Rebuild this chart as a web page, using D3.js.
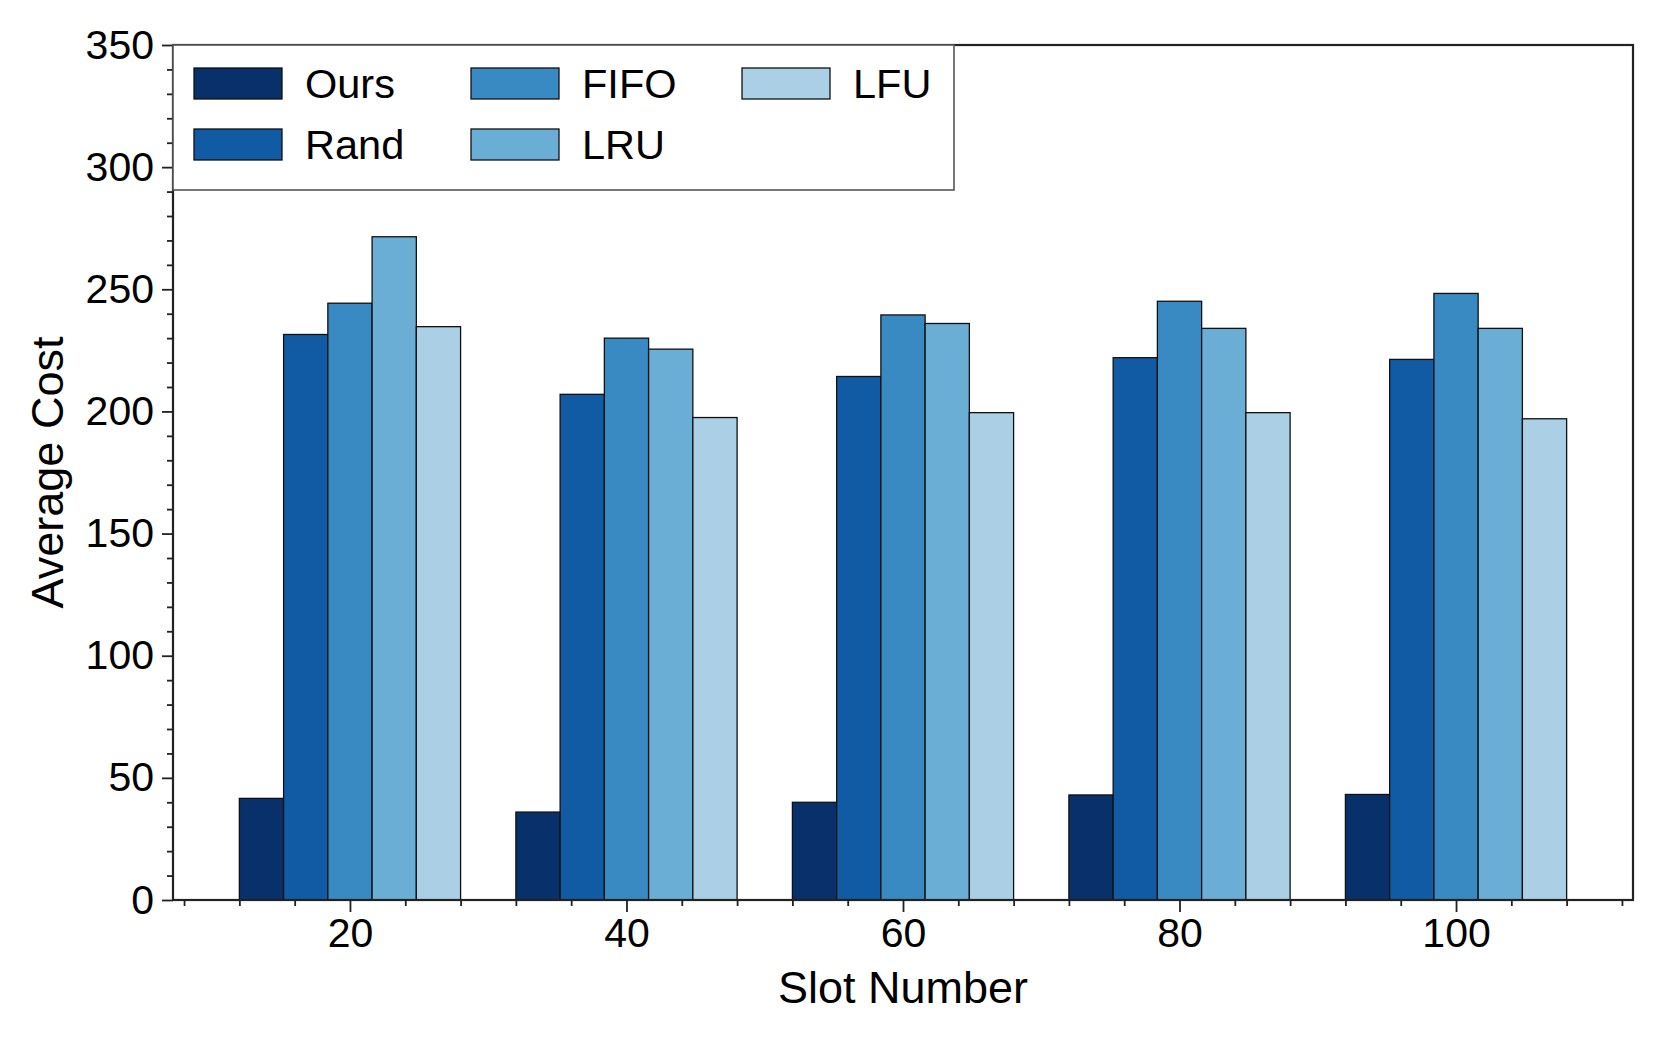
<!DOCTYPE html>
<html>
<head>
<meta charset="utf-8">
<script src="https://cdn.jsdelivr.net/npm/d3@7"></script>
<style>
  body { margin: 0; background: #fff; }
  text { font-family: "Liberation Sans", Arial, sans-serif; fill: #000; }
</style>
</head>
<body>
<div class="canvas"></div>
<script>
// data
const slots = [20, 40, 60, 80, 100]
const methods = ['Ours', 'Rand', 'FIFO', 'LRU', 'LFU']
const ours = [41.6, 36.0, 40.0, 43.0, 43.2]
const rand = [231.5, 207.0, 214.3, 222.0, 221.3]
const fifo = [244.3, 230.0, 239.5, 245.1, 248.3]
const lru  = [271.5, 225.5, 236.0, 234.0, 234.0]
const lfu  = [234.7, 197.5, 199.5, 199.5, 197.0]
const yTicks = [0, 50, 100, 150, 200, 250, 300, 350]
const colors = ['#08306b', '#105ba4', '#3989c2', '#6aadd5', '#abcfe5']

const series = [ours, rand, fifo, lru, lfu]

const width = 1661, height = 1043
const margin = {top: 45, right: 28, bottom: 143, left: 173}
const graphWidth = width - margin.left - margin.right
const graphHeight = height - margin.top - margin.bottom
const barW = 3.2 // bar width in slot units

const svg = d3.select('.canvas').append('svg').attr('width', width).attr('height', height)

const x = d3.scaleLinear().domain([7.2, 112.8]).range([0, graphWidth])
const y = d3.scaleLinear().domain([0, 350]).range([graphHeight, 0])

const graph = svg.append('g').attr('transform', `translate(${margin.left}, ${margin.top})`)

// bars
series.forEach((vals, i) => {
    graph.append('g').selectAll('rect')
        .data(vals)
        .enter()
        .append('rect')
            .attr('x', (d, j) => x(slots[j] + (i - 2.5) * barW))
            .attr('width', x(barW) - x(0))
            .attr('y', d => y(d))
            .attr('height', d => graphHeight - y(d))
            .attr('fill', colors[i])
            .attr('stroke', '#111')
            .attr('stroke-width', 1.3)
})

// axes
const minorX = d3.range(8, 113, 4).filter(v => !slots.includes(v))
const minorY = d3.range(0, 351, 10).filter(v => !yTicks.includes(v))

const xAxisGraph = graph.append('g').attr('transform', `translate(0, ${graphHeight})`)
xAxisGraph.call(d3.axisBottom(x).tickValues(slots).tickSize(12).tickPadding(6).tickFormat(d3.format('d')))
graph.append('g').attr('transform', `translate(0, ${graphHeight})`)
    .call(d3.axisBottom(x).tickValues(minorX).tickSize(6).tickFormat(''))

const yAxisGraph = graph.append('g')
yAxisGraph.call(d3.axisLeft(y).tickValues(yTicks).tickSize(11).tickPadding(8))
graph.append('g').call(d3.axisLeft(y).tickValues(minorY).tickSize(6).tickFormat(''))

graph.selectAll('.domain').remove()
graph.selectAll('.tick line').attr('stroke', '#222').attr('stroke-width', 1.8)
graph.selectAll('.tick text').attr('font-size', 41).attr('fill', '#000')

// frame
graph.append('rect')
    .attr('width', graphWidth).attr('height', graphHeight)
    .attr('fill', 'none').attr('stroke', '#222').attr('stroke-width', 2.2)

// axis labels
svg.append('text')
    .attr('x', margin.left + graphWidth / 2).attr('y', 1003)
    .attr('text-anchor', 'middle').attr('font-size', 45)
    .text('Slot Number')
svg.append('text')
    .attr('transform', `translate(63, ${margin.top + graphHeight / 2}) rotate(-90)`)
    .attr('text-anchor', 'middle').attr('font-size', 45)
    .text('Average Cost')

// legend
const legend = svg.append('g')
legend.append('rect')
    .attr('x', 173).attr('y', 45).attr('width', 781).attr('height', 145)
    .attr('fill', '#fff').attr('stroke', '#555').attr('stroke-width', 1.6)

const colX = [194, 471, 742]
const rowY = [68, 129]
methods.forEach((m, i) => {
    const cx = colX[Math.floor(i / 2)], cy = rowY[i % 2]
    legend.append('rect')
        .attr('x', cx).attr('y', cy).attr('width', 88).attr('height', 31)
        .attr('fill', colors[i]).attr('stroke', '#111').attr('stroke-width', 1.3)
    legend.append('text')
        .attr('x', cx + 111).attr('y', cy + 30)
        .attr('font-size', 41.5)
        .text(m)
})
</script>
</body>
</html>
